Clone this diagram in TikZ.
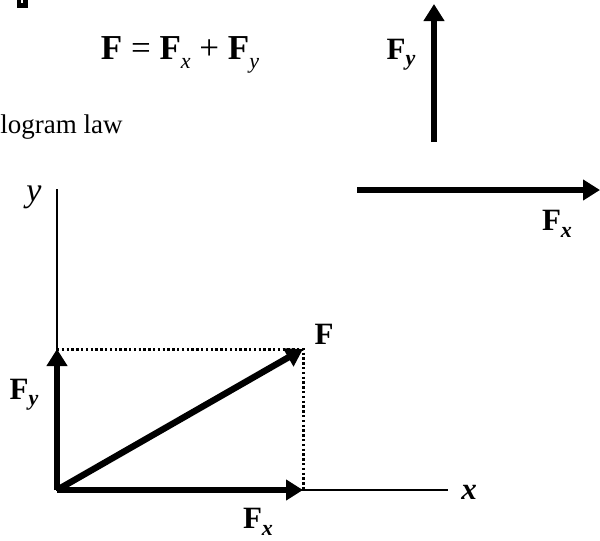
\documentclass[tikz,border=0pt]{standalone}
\usepackage{fontspec}
\setmainfont{Liberation Serif}
\usepackage{tikz}
\usetikzlibrary{arrows.meta}
\newcommand{\vF}[1]{\textbf{F}\raisebox{-0.45ex}{\fontsize{11}{12}\selectfont\textbf{\textit{#1}}}}
\newcommand{\eF}[1]{\textbf{F}\raisebox{-0.55ex}{\fontsize{11}{12}\selectfont\textit{#1}}}

\begin{document}
\begin{tikzpicture}[x=0.5pt, y=-0.5pt, every node/.style={inner sep=0pt, font=\fontsize{15.5}{18}\selectfont}]
    \tikzset{force/.style={line width=3.2pt, -{Triangle[length=8.5pt,width=10pt]}},
             axis/.style={line width=0.8pt},
             guide/.style={line width=1.5pt, dash pattern=on 1.2pt off 1.2pt}}
    \useasboundingbox (0,0) rectangle (600,541);

    % cut-off mark and heading
    \draw[line width=2.2pt] (19,0) -- (19,5.5) -- (25.5,5.5) -- (25.5,0);
    \node[font=\fontsize{17.5}{20}\selectfont] (eqn) at (180,55) {\textbf{F} = \eF{x} + \eF{y}};
    \node[anchor=base west, font=\fontsize{13.5}{16}\selectfont] (law) at (0,133) {logram law};

    % separate components
    \coordinate (fyA) at (434,142);
    \coordinate (fyB) at (434,4);
    \coordinate (fxA) at (357,190);
    \coordinate (fxB) at (600,190);
    \draw[force] (fyA) -- (fyB);
    \draw[force] (fxA) -- (fxB);
    \node (fyT) at (401,55) {\vF{y}};
    \node (fxT) at (557,224) {\vF{x}};

    % parallelogram law
    \coordinate (O) at (57,490);
    \coordinate (yTop) at (57,189);
    \coordinate (xEnd) at (448,490);
    \coordinate (P) at (303,349);
    \coordinate (Px) at (303,490);
    \coordinate (Py) at (57,349);
    \draw[axis] (yTop) -- (O) -- (xEnd);
    \draw[guide] (Py) -- (P) -- (Px);
    \draw[force] (O) -- (Px);
    \draw[force] (O) -- (Py);
    \draw[force] (O) -- (P);
    \node[font=\fontsize{17}{20}\selectfont] (ylab) at (34,197) {\textit{y}};
    \node (xlab) at (469,492) {\textbf{\textit{x}}};
    \node (flab) at (324,334) {\textbf{F}};
    \node (fyB2) at (24,395) {\vF{y}};
    \node (fxB2) at (258,522) {\vF{x}};
\end{tikzpicture}
\end{document}
